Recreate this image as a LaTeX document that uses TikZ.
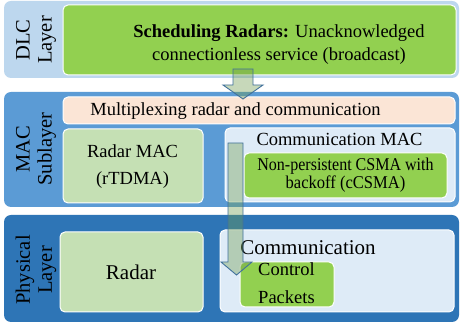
\documentclass[tikz,border=0pt]{standalone}
\usepackage{fontspec}
\usepackage{graphicx}
\setmainfont{Liberation Serif}
\definecolor{dlcblue}{HTML}{BDD7EE}
\definecolor{macblue}{HTML}{5B9BD5}
\definecolor{phyblue}{HTML}{2E75B6}
\definecolor{lgreen}{HTML}{92D050}
\definecolor{pgreen}{HTML}{C5E0B4}
\definecolor{pblue}{HTML}{DEEBF7}
\definecolor{peach}{HTML}{FBE5D6}
\definecolor{arrowfill}{HTML}{6E9A4A}
\definecolor{arrowline}{HTML}{41719C}
\tikzset{
  layerbox/.style={rectangle, rounded corners=7pt, draw=none, inner sep=0pt},
  innerbox/.style={rectangle, rounded corners=5pt, draw=white, line width=1pt, inner sep=0pt},
  txt/.style={inner sep=0pt, align=center, text=black, font=\fontsize{18.5}{23}\selectfont},
  sidelabel/.style={inner sep=0pt, align=center, rotate=90, text=black, font=\fontsize{20.5}{22}\selectfont},
  blockarrow/.style={fill=arrowfill, fill opacity=0.38, draw=arrowline, draw opacity=1, line width=0.9pt, line join=miter},
}
\begin{document}
\begin{tikzpicture}[x=1pt,y=-1pt]
\useasboundingbox (0,0) rectangle (461,328);
\fill[white] (0,0) rectangle (461,328);
% DLC layer
\node[layerbox, fill=dlcblue, minimum width=455pt, minimum height=77pt] (dlc) at (231.5,39.5) {};
\node[innerbox, fill=lgreen, minimum width=393pt, minimum height=70pt] (sched) at (259.5,40) {};
\node[txt] (schedt) at (279,45) {\textbf{Scheduling Radars:} Unacknowledged\\connectionless service (broadcast)};
\node[sidelabel] (dlcl) at (36,40) {DLC\\Layer};
% MAC sublayer
\node[layerbox, fill=macblue, minimum width=455pt, minimum height=115pt] (mac) at (231.5,149.5) {};
\node[innerbox, fill=peach, minimum width=392pt, minimum height=27pt] (mux) at (259,110.5) {};
\node[txt] (muxt) at (235.5,111) {Multiplexing radar and communication};
\node[innerbox, fill=pgreen, minimum width=140pt, minimum height=74pt] (rmac) at (133,166) {};
\node[txt, font=\fontsize{18.5}{27}\selectfont] (rmact) at (132.5,167) {Radar MAC\\(rTDMA)};
\node[innerbox, fill=pblue, minimum width=230pt, minimum height=74pt] (cmac) at (340,165) {};
\node[txt] (cmact) at (339.5,139) {Communication MAC};
\node[innerbox, fill=lgreen, minimum width=203pt, minimum height=45pt] (csma) at (345.5,175.5) {};
\node[txt, font=\fontsize{18}{16.5}\selectfont] (csmat) at (345.5,175) {\scalebox{0.89}[1]{Non-persistent CSMA with}\\\scalebox{0.92}[1]{backoff (cCSMA)}};
\node[sidelabel] (macl) at (36,149) {MAC\\Sublayer};
% Physical layer
\node[layerbox, fill=phyblue, minimum width=455pt, minimum height=107pt] (phy) at (231.5,268.5) {};
\node[innerbox, fill=pgreen, minimum width=143pt, minimum height=80pt] (radar) at (131.5,272) {};
\node[txt, font=\fontsize{21}{24}\selectfont] (radart) at (131,272) {Radar};
\node[innerbox, fill=pblue, minimum width=234pt, minimum height=82pt] (comm) at (337,271) {};
\node[txt, font=\fontsize{21}{24}\selectfont] (commt) at (308,248) {Communication};
\node[innerbox, fill=lgreen, minimum width=94pt, minimum height=45pt] (ctrl) at (287,284.5) {};
\node[txt, font=\fontsize{18.5}{28}\selectfont] (ctrlt) at (286.5,283) {Control\\Packets};
\node[sidelabel] (phyl) at (36,270) {Physical\\Layer};
% block arrows
\draw[blockarrow] (233,69) -- (253,69) -- (253,85) -- (263,85) -- (243,99) -- (223,85) -- (233,85) -- cycle;
\draw[blockarrow] (228,143) -- (243,143) -- (243,262) -- (252,262) -- (236.5,275) -- (221,262) -- (228,262) -- cycle;
\end{tikzpicture}
\end{document}
